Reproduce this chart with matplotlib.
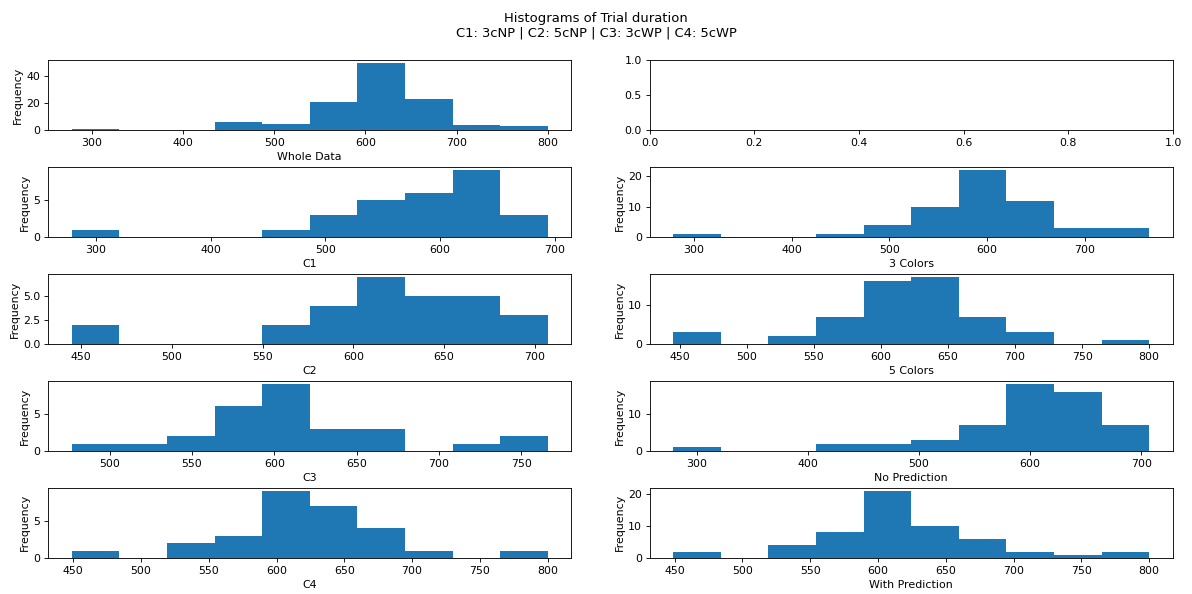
import numpy as np
import matplotlib
matplotlib.use("Agg")
import matplotlib.pyplot as plt

# Panel names (x labels)
names = ["Whole Data", None, "C1", "3 Colors", "C2", "5 Colors",
         "C3", "No Prediction", "C4", "With Prediction"]

# Data ranges (min, max) of trial durations per panel
ranges = {
    "Whole Data": (278, 800),
    "C1": (279, 694),
    "C2": (445, 707),
    "C3": (477, 766),
    "C4": (449, 800),
    "3 Colors": (279, 766),
    "5 Colors": (445, 800),
    "No Prediction": (279, 707),
    "With Prediction": (449, 800),
}

# Counts in 10 equal bins per panel
counts = {
    "Whole Data": [1, 0, 0, 6, 5, 21, 49, 23, 4, 3],
    "C1": [1, 0, 0, 0, 1, 3, 5, 6, 9, 3],
    "C2": [2, 0, 0, 0, 2, 4, 7, 5, 5, 3],
    "C3": [1, 1, 2, 6, 9, 3, 3, 0, 1, 2],
    "C4": [1, 0, 2, 3, 9, 7, 4, 1, 0, 1],
    "3 Colors": [1, 0, 0, 1, 4, 10, 22, 12, 3, 3],
    "5 Colors": [3, 0, 2, 7, 16, 17, 7, 3, 0, 1],
    "No Prediction": [1, 0, 0, 2, 2, 3, 7, 18, 16, 7],
    "With Prediction": [2, 0, 4, 8, 21, 10, 6, 2, 1, 2],
}

DPI = 79
fig, axes = plt.subplots(5, 2, figsize=(1192/DPI, 594/DPI), dpi=DPI)
fig.subplots_adjust(left=48/1192, right=1173/1192, top=1-60/594,
                    bottom=1-558/594, hspace=0.52, wspace=0.149)
axes = axes.ravel()
for ax, name in zip(axes, names):
    if name is None:
        continue
    lo, hi = ranges[name]
    edges = np.linspace(lo, hi, 11)
    centers = (edges[:-1] + edges[1:]) / 2
    ax.hist(centers, bins=edges, weights=counts[name], color="#1f77b4")
    ax.set_xlabel(name)
    ax.set_ylabel("Frequency", labelpad=3)

fig.suptitle("Histograms of Trial duration\nC1: 3cNP | C2: 5cNP | C3: 3cWP | C4: 5cWP",
             y=0.98)
fig.savefig("out.png", dpi=DPI)
